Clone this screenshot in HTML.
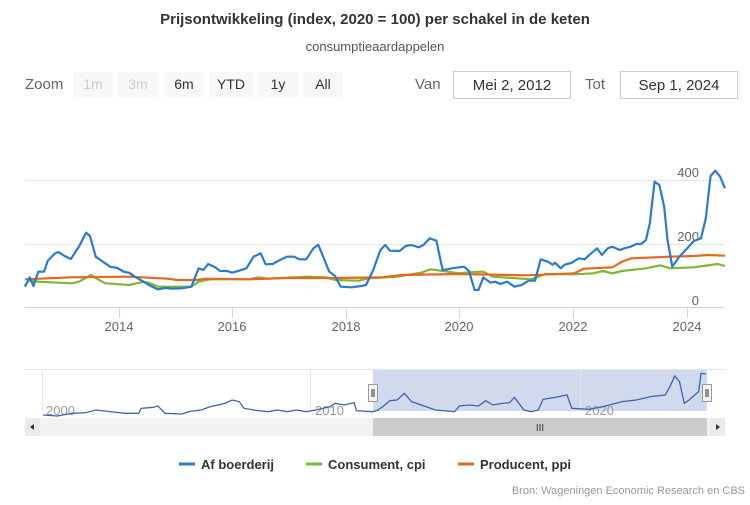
<!DOCTYPE html>
<html><head><meta charset="utf-8"><style>
body{margin:0;background:#fff;font-family:"Liberation Sans",sans-serif}
</style></head><body>
<svg width="750" height="500" xmlns="http://www.w3.org/2000/svg" font-family="Liberation Sans, sans-serif">
<rect width="750" height="500" fill="#fff"/>
<text x="375" y="24" text-anchor="middle" font-size="15" font-weight="bold" fill="#333">Prijsontwikkeling (index, 2020 = 100) per schakel in de keten</text>
<text x="375" y="51" text-anchor="middle" font-size="13" fill="#555">consumptieaardappelen</text>
<text x="25" y="89" font-size="15" fill="#666">Zoom</text>
<g font-size="14" text-anchor="middle">
<rect x="73" y="72" width="40" height="25" fill="#f7f7f7"/><text x="93" y="89" fill="#ccc">1m</text>
<rect x="118" y="72" width="40" height="25" fill="#f7f7f7"/><text x="138" y="89" fill="#ccc">3m</text>
<rect x="164" y="72" width="40" height="25" fill="#f7f7f7"/><text x="184" y="89" fill="#333">6m</text>
<rect x="209" y="72" width="44" height="25" fill="#f7f7f7"/><text x="231" y="89" fill="#333">YTD</text>
<rect x="258" y="72" width="40" height="25" fill="#f7f7f7"/><text x="278" y="89" fill="#333">1y</text>
<rect x="303" y="72" width="40" height="25" fill="#f7f7f7"/><text x="323" y="89" fill="#333">All</text>
</g>
<text x="415" y="89" font-size="15" fill="#666">Van</text>
<rect x="453.5" y="71.5" width="117" height="27" fill="#fff" stroke="#ccc"/>
<text x="512" y="90" font-size="15" text-anchor="middle" fill="#333">Mei 2, 2012</text>
<text x="585" y="89" font-size="15" fill="#666">Tot</text>
<rect x="620.5" y="71.5" width="117" height="27" fill="#fff" stroke="#ccc"/>
<text x="679" y="90" font-size="15" text-anchor="middle" fill="#333">Sep 1, 2024</text>
<g stroke="#e6e6e6" stroke-width="1">
<line x1="25" y1="180.5" x2="725" y2="180.5"/>
<line x1="25" y1="244.5" x2="725" y2="244.5"/>
</g>
<line x1="25" y1="307.5" x2="725" y2="307.5" stroke="#ccd6eb"/>
<g stroke="#ccd6eb"><line x1="119.5" y1="308" x2="119.5" y2="318"/><line x1="232.5" y1="308" x2="232.5" y2="318"/><line x1="346.5" y1="308" x2="346.5" y2="318"/><line x1="459.5" y1="308" x2="459.5" y2="318"/><line x1="573.5" y1="308" x2="573.5" y2="318"/><line x1="687.5" y1="308" x2="687.5" y2="318"/></g>
<g font-size="13" fill="#666" text-anchor="middle"><text x="119" y="331">2014</text><text x="232" y="331">2016</text><text x="346" y="331">2018</text><text x="459" y="331">2020</text><text x="573" y="331">2022</text><text x="687" y="331">2024</text></g>
<g font-size="13" fill="#666" text-anchor="end"><text x="699" y="177">400</text><text x="699" y="241">200</text><text x="699" y="305">0</text></g>
<g transform="translate(0,160) scale(0.4785,0.33333)" fill="none" stroke-width="2.2" stroke-linejoin="round" vector-effect="non-scaling-stroke">
<polyline vector-effect="non-scaling-stroke" stroke="#7cb832" points="52,378 60,362 80,365 150,370 165,365 190,345 205,358 220,370 250,373 270,375 300,365 310,368 330,380 400,380 415,365 440,358 520,358 540,352 560,356 640,350 680,352 700,360 750,362 770,355 830,350 880,338 900,328 930,334 960,340 990,336 1010,335 1030,350 1080,355 1110,358 1140,342 1200,343 1240,340 1260,333 1280,340 1300,333 1350,325 1380,316 1400,325 1450,322 1500,312 1515,318"/>
<polyline vector-effect="non-scaling-stroke" stroke="#e8671c" points="52,358 150,352 270,350 350,356 370,360 410,360 430,356 520,358 600,354 700,354 800,352 840,345 960,342 1100,346 1200,340 1220,326 1280,322 1300,305 1320,295 1400,290 1450,288 1480,285 1515,287"/>
<polyline vector-effect="non-scaling-stroke" stroke="#2a7ad2" points="52,380 62,352 70,378 80,335 92,335 100,302 115,280 122,276 135,288 148,297 165,260 180,218 188,228 200,290 212,302 230,320 245,324 260,336 270,338 282,350 300,365 315,378 330,388 345,384 360,386 380,385 400,380 415,325 425,330 435,312 450,322 460,333 475,333 485,338 500,332 515,325 530,290 545,280 555,313 570,312 585,300 600,290 615,290 625,298 640,298 655,265 665,254 672,278 688,335 700,348 712,380 735,382 755,378 765,375 775,345 780,330 795,270 805,255 815,272 835,273 848,258 860,255 875,262 885,255 898,235 912,242 925,330 935,328 945,325 960,322 970,320 980,333 992,390 1000,390 1010,352 1025,368 1035,365 1045,372 1060,365 1075,380 1090,375 1105,362 1118,362 1130,298 1145,305 1155,314 1160,308 1172,325 1180,314 1195,308 1210,295 1222,298 1232,284 1248,265 1258,285 1270,265 1280,260 1295,270 1305,265 1318,260 1330,252 1340,252 1350,240 1358,190 1368,65 1378,75 1388,140 1395,240 1405,320 1420,290 1438,262 1450,243 1465,235 1475,175 1485,48 1495,32 1505,50 1515,85"/>
</g>
<line x1="25" y1="369.5" x2="725" y2="369.5" stroke="#e6e6e6"/>
<rect x="373" y="370" width="334" height="41" fill="#ccd6eb" opacity="0.9"/>
<g stroke="#e6e6e6"><line x1="42.5" y1="370" x2="42.5" y2="411"/><line x1="310.5" y1="370" x2="310.5" y2="411"/><line x1="580.5" y1="370" x2="580.5" y2="411"/></g>
<g font-size="13" fill="#999"><text x="46" y="415">2000</text><text x="315" y="415">2010</text><text x="585" y="415">2020</text></g>
<g transform="translate(0,360) scale(0.4785,0.33333)">
<polyline vector-effect="non-scaling-stroke" fill="none" stroke="#4062b5" stroke-width="1.3" points="90,165 120,168 150,160 180,158 200,150 230,155 260,160 290,160 295,145 320,142 330,138 345,160 380,162 395,155 420,150 440,140 470,130 485,120 500,125 510,145 540,152 560,155 580,150 600,155 620,150 640,155 660,150 690,140 700,130 720,135 740,128 745,152 780,155 790,150 800,140 815,122 830,120 845,100 860,125 890,140 910,150 950,155 960,138 980,135 1000,138 1015,122 1030,135 1050,130 1065,128 1075,112 1095,150 1110,155 1125,150 1135,118 1160,112 1185,105 1195,145 1230,148 1260,140 1300,125 1330,120 1360,110 1390,105 1400,80 1410,48 1420,65 1430,130 1440,120 1460,95 1465,40 1475,42"/>
</g>
<rect x="368.5" y="384.5" width="9" height="17" fill="#f2f2f2" stroke="#999"/>
<line x1="372" y1="389" x2="372" y2="397" stroke="#333"/><line x1="374" y1="389" x2="374" y2="397" stroke="#333"/>
<rect x="702.5" y="384.5" width="9" height="17" fill="#f2f2f2" stroke="#999"/>
<line x1="706" y1="389" x2="706" y2="397" stroke="#333"/><line x1="708" y1="389" x2="708" y2="397" stroke="#333"/>
<rect x="25" y="418" width="700" height="18" fill="#f2f2f2"/>
<rect x="373" y="418" width="334" height="18" fill="#cccccc"/>
<text x="540" y="431" font-size="10" text-anchor="middle" fill="#333">III</text>
<rect x="25" y="418" width="15" height="18" fill="#ebebeb"/><polygon points="30,427 34,424 34,430" fill="#333"/>
<rect x="710" y="418" width="15" height="18" fill="#ebebeb"/><polygon points="720,427 716,424 716,430" fill="#333"/>
<g font-size="13" font-weight="bold" fill="#333">
<line x1="179" y1="464" x2="195" y2="464" stroke="#2a7ad2" stroke-width="3"/><text x="201" y="469">Af boerderij</text>
<line x1="306" y1="464" x2="322" y2="464" stroke="#7cb832" stroke-width="3"/><text x="328" y="469">Consument, cpi</text>
<line x1="458" y1="464" x2="474" y2="464" stroke="#e8671c" stroke-width="3"/><text x="480" y="469">Producent, ppi</text>
</g>
<text x="745" y="494" font-size="11" text-anchor="end" fill="#999">Bron: Wageningen Economic Research en CBS</text>
</svg>
</body></html>
